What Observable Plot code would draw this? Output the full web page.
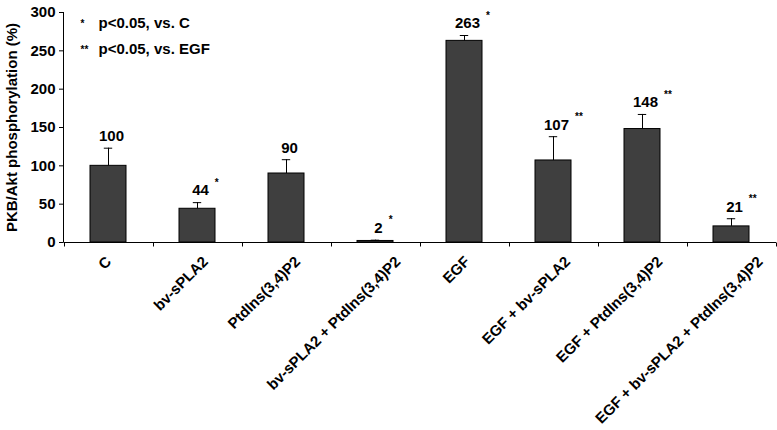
<!DOCTYPE html>
<html><head><meta charset="utf-8">
<script src="https://cdn.jsdelivr.net/npm/d3@7"></script>
<script src="https://cdn.jsdelivr.net/npm/@observablehq/plot@0.6"></script>
<style>html,body{margin:0;padding:0;background:#fff}#chart svg{display:block}</style>
</head><body><div id="chart"></div>
<script>
const categories = ["C", "bv-sPLA2", "PtdIns(3,4)P2", "bv-sPLA2 + PtdIns(3,4)P2", "EGF", "EGF + bv-sPLA2", "EGF + PtdIns(3,4)P2", "EGF + bv-sPLA2 + PtdIns(3,4)P2"];
const values = [100, 44, 90, 2, 263, 107, 148, 21];
const errors = [23, 8, 18, 1, 7, 31, 19, 10];
const stars = ["", "*", "", "*", "*", "**", "**", "**"];
const yTicks = [0, 50, 100, 150, 200, 250, 300];
const legendSymbols = ["*", "**"];
const legendLabels = ["p<0.05, vs. C", "p<0.05, vs. EGF"];
const yLabel = "PKB/Akt phosphorylation (%)";

const data = categories.map((c, i) => ({cat: c, value: values[i], top: values[i] + errors[i], star: stars[i], label: String(values[i])}));
const font = "'Liberation Sans', Arial, Helvetica, sans-serif";

const measureCtx = document.createElement("canvas").getContext("2d");
measureCtx.font = "bold 15px 'Liberation Sans', Arial, sans-serif";

// axis lines, boundary ticks and rotated category labels, placed with Plot's x and y scales
function xAxisRender(index, scales, vals, dims) {
  const x = scales.x, y = scales.y;
  const left = dims.marginLeft, right = dims.width - dims.marginRight;
  const y0 = Math.round(y(0)) + 0.5;
  const yTop = Math.round(y(yTicks[yTicks.length - 1]));
  const n = categories.length;
  const step = typeof x.step === "function" ? x.step() : (right - left) / n;
  const bw = typeof x.bandwidth === "function" ? x.bandwidth() : step * 0.4;
  const g = d3.create("svg:g");
  const lines = g.append("g").attr("stroke", "#000").attr("stroke-width", 1).attr("fill", "none");
  const lx = Math.round(left) + 0.5;
  lines.append("line").attr("x1", lx).attr("x2", lx).attr("y1", yTop).attr("y2", y0);
  lines.append("line").attr("x1", lx).attr("x2", right).attr("y1", y0).attr("y2", y0);
  for (let i = 0; i <= n; i++) {
    const bx = Math.round(x(categories[0]) - (step - bw) / 2 + i * step) + 0.5;
    lines.append("line").attr("x1", bx).attr("x2", bx).attr("y1", y0).attr("y2", y0 + 4);
  }
  const labels = g.append("g").attr("fill", "#000").attr("text-anchor", "end");
  for (const c of categories) {
    const w = measureCtx.measureText(c).width;
    const ax = x(c) + bw / 2 + 2.85 + 0.13 * w;
    const ay = y0 + 20;
    labels.append("text").attr("transform", `translate(${ax},${ay}) rotate(-45)`).text(c);
  }
  return g.node();
}

const starMarks = [1, 2, 3].map(k => Plot.text(data.filter(d => d.star && d.label.length === k), {
  x: "cat", y: "top", text: "star", textAnchor: "start", dx: 3 + k * 4.17 + 6, dy: -20, fontSize: 10
}));

const legendMarks = legendLabels.flatMap((t, i) => [
  Plot.text([legendSymbols[i]], {frameAnchor: "top-left", text: d => d, textAnchor: "start", dx: 17, dy: 7 + 26 * i, fontSize: 10}),
  Plot.text([t], {frameAnchor: "top-left", text: d => d, textAnchor: "start", dx: 35, dy: 5 + 26 * i})
]);

const chart = Plot.plot({
  width: 777,
  height: 430,
  marginLeft: 63,
  marginRight: 1,
  marginTop: 12,
  marginBottom: 188,
  style: {fontFamily: font, fontSize: "15px", fontWeight: "bold", background: "#fff", color: "#000", overflow: "visible"},
  x: {domain: categories, paddingInner: 0.6, paddingOuter: 0.3, align: 0.5, label: null, axis: null},
  y: {domain: [0, 300], label: null},
  marks: [
    Plot.barY(data, {x: "cat", y: "value", fill: "#3f3f3f", stroke: "#000", strokeWidth: 1}),
    Plot.ruleX(data, {x: "cat", y1: "value", y2: "top", stroke: "#000"}),
    Plot.tickY(data, {x: "cat", y: "top", stroke: "#000", insetLeft: 13.8, insetRight: 13.8}),
    Plot.text(data, {x: "cat", y: "top", text: "label", dx: 3, dy: -12}),
    ...starMarks,
    ...legendMarks,
    Plot.axisY({ticks: yTicks, tickSize: 4, tickPadding: 4, label: null}),
    xAxisRender,
    Plot.text([yLabel], {frameAnchor: "left", text: d => d, textAnchor: "middle", rotate: -90, dx: -51})
  ]
});
document.getElementById("chart").appendChild(chart);
</script>
</body></html>
